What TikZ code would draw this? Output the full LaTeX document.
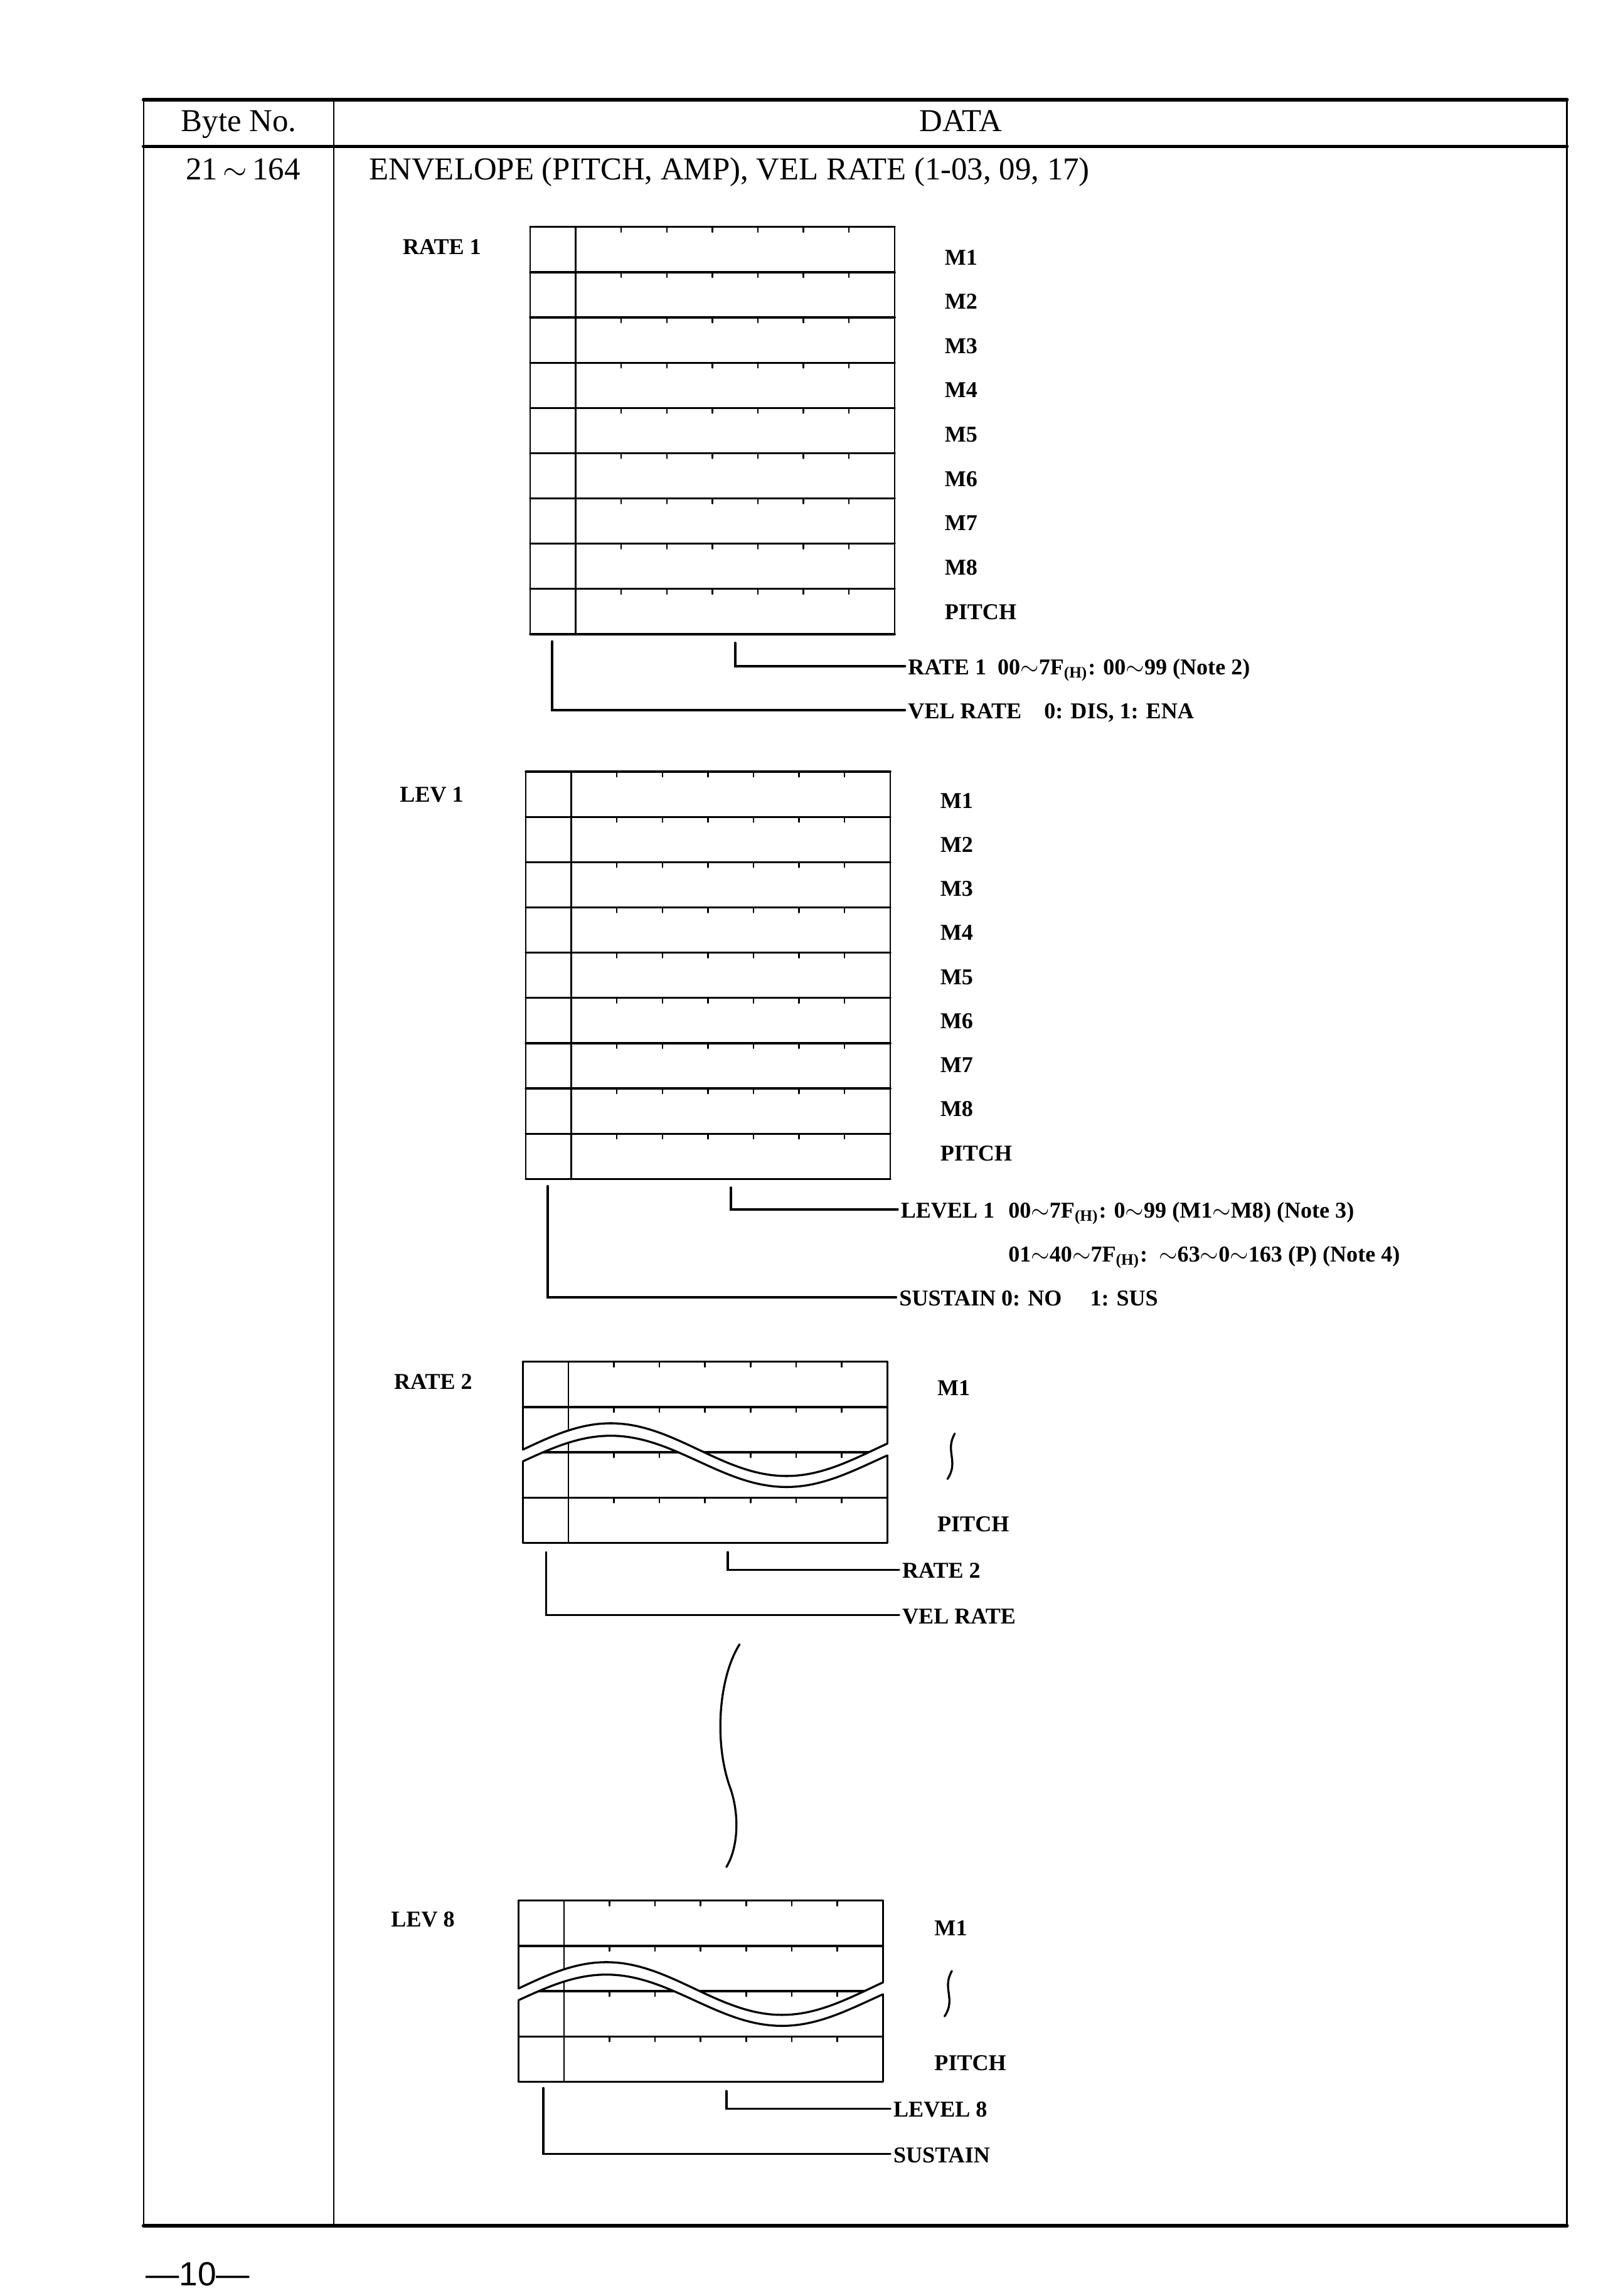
\documentclass[tikz,border=0pt]{standalone}
\usepackage{fontspec}
\setmainfont{Liberation Serif}
\setsansfont{Liberation Sans}
\usetikzlibrary{positioning}
\newcommand{\rng}{\ensuremath{\sim}}

\begin{document}
\begin{tikzpicture}[x=0.02cm, y=-0.02cm, line cap=round,
    hdr/.style={font=\fontsize{12.4}{14}\selectfont, inner sep=1pt, text height=1.45ex, text depth=0pt},
    lab/.style={font=\fontsize{8.8}{10}\selectfont\bfseries, inner sep=1pt, anchor=west, text height=1.45ex, text depth=0pt},
    grd/.style={line width=0.6pt},
    hln/.style={line width=0.8pt},
    lead/.style={line width=0.85pt},
    rule/.style={line width=1.4pt}]
  \useasboundingbox (0,0) rectangle (1098,1568);

  % table frame
  \draw[rule] (98,68) -- (1070,68);
  \draw[rule] (98,100) -- (1070,100);
  \draw[rule] (98,1520) -- (1070,1520);
  \draw[grd] (98,68) -- (98,1520) (228,68) -- (228,1520) (1070,68) -- (1070,1520);
  \node[hdr] (byte) at (163,84) {Byte No.};
  \node[hdr] (data) at (656,84) {DATA};
  \node[hdr] (bytes) at (166,117) {21\,\rng\,164};
  \node[hdr, anchor=west] (envl) at (250,117) {ENVELOPE (PITCH, AMP), VEL RATE (1-03, 09, 17)};

  % bit grids
  \foreach \gx/\gy/\n in {362/155/9, 359/527/9, 357/930/4, 354/1298/4} {
    \pgfmathtruncatemacro{\m}{\n-1}
    \draw[grd] (\gx,\gy) -- (\gx,{\gy+30.9*\n}) ({\gx+249},\gy) -- ({\gx+249},{\gy+30.9*\n});
    \draw[grd] ({\gx+31.1},\gy) -- ({\gx+31.1},{\gy+30.9*\n});
    \draw[hln] (\gx,{\gy+30.9*\n}) -- ({\gx+249},{\gy+30.9*\n});
    \foreach \r in {0,...,\m} {
      \draw[hln] (\gx,{\gy+30.9*\r}) -- ({\gx+249},{\gy+30.9*\r});
      \foreach \k in {2,...,7}
        \draw[grd] ({\gx+31.1*\k},{\gy+30.9*\r}) -- ++(0,3.5);
    }
  }

  % wavy breaks through the short grids
  \foreach \gx/\gy in {357/930, 354/1298} {
    \pgfmathsetmacro{\ga}{\gx-1.5}
    \pgfmathsetmacro{\gb}{\gx+250.5}
    \pgfmathsetmacro{\gc}{\gx+249}
    \fill[white] plot[domain=\ga:\gb, samples=80, smooth] (\x,{\gy+60-18*cos(1.5*(\x-\gx-60))})
      -- plot[domain=\gb:\ga, samples=80, smooth] (\x,{\gy+68-17.5*cos(1.5*(\x-\gx-60))}) -- cycle;
    \draw[hln] plot[domain=\gx:\gc, samples=80, smooth] (\x,{\gy+60-18*cos(1.5*(\x-\gx-60))});
    \draw[hln] plot[domain=\gx:\gc, samples=80, smooth] (\x,{\gy+68-17.5*cos(1.5*(\x-\gx-60))});
  }

  % RATE 1
  \node[lab] (ttla) at (273,168) {RATE 1};
  \foreach \t [count=\i] in {M1,M2,M3,M4,M5,M6,M7,M8,PITCH}
    \node[lab] (ra\i) at (643,{175+30.25*(\i-1)}) {\t};
  \node[lab] (rate1) at (618,455) {RATE 1\enspace 00\rng7F\textsubscript{(H)}: 00\rng99 (Note 2)};
  \node[lab] (vela) at (618,485) {VEL RATE\quad 0: DIS, 1: ENA};
  \coordinate (ra-r) at (502,439);
  \coordinate (ra-v) at (377,438);
  \draw[lead] (ra-r) |- (rate1.west);
  \draw[lead] (ra-v) |- (vela.west);

  % LEV 1
  \node[lab] (ttlb) at (271,542) {LEV 1};
  \foreach \t [count=\i] in {M1,M2,M3,M4,M5,M6,M7,M8,PITCH}
    \node[lab] (rb\i) at (640,{546+30.1*(\i-1)}) {\t};
  \node[lab] (lev1) at (613,826) {LEVEL 1};
  \node[lab, right=3pt of lev1] (lev1v) {00\rng7F\textsubscript{(H)}: 0\rng99 (M1\rng M8) (Note 3)};
  \coordinate (lv2) at (0,856);
  \node[lab] (lev1p) at (lev1v.west |- lv2) {01\rng40\rng7F\textsubscript{(H)}:\enspace\rng63\rng0\rng163 (P) (Note 4)};
  \node[lab] (sus) at (612,886) {SUSTAIN 0: NO\quad\ 1: SUS};
  \coordinate (rb-l) at (499,811);
  \coordinate (rb-s) at (374,810);
  \draw[lead] (rb-l) |- (lev1.west);
  \draw[lead] (rb-s) |- (sus.west);

  % RATE 2
  \node[lab] (ttlc) at (267,943) {RATE 2};
  \node[lab] (rc1) at (638,947) {M1};
  \node[lab] (rc9) at (638,1040) {PITCH};
  \draw[hln] (652,979) .. controls (645,991) and (655,998) .. (647,1010);
  \node[lab] (rate2) at (614,1072) {RATE 2};
  \node[lab] (velc) at (614,1103) {VEL RATE};
  \coordinate (rc-r) at (497,1060);
  \coordinate (rc-v) at (373,1060);
  \draw[lead] (rc-r) |- (rate2.west);
  \draw[lead] (rc-v) |- (velc.west);

  % gap
  \draw[hln] (505,1123) .. controls (491,1145) and (487,1190) .. (499,1222)
    .. controls (505,1240) and (504,1262) .. (496,1275);

  % LEV 8
  \node[lab] (ttld) at (265,1310) {LEV 8};
  \node[lab] (rd1) at (636,1316) {M1};
  \node[lab] (rd9) at (636,1408) {PITCH};
  \draw[hln] (650,1346) .. controls (643,1358) and (653,1365) .. (645,1377);
  \node[lab] (lev8) at (608,1440) {LEVEL 8};
  \node[lab] (susd) at (608,1471) {SUSTAIN};
  \coordinate (rd-l) at (496,1428);
  \coordinate (rd-s) at (371,1426);
  \draw[lead] (rd-l) |- (lev8.west);
  \draw[lead] (rd-s) |- (susd.west);

  \node[font=\sffamily\fontsize{13}{15}\selectfont] (pg) at (135,1553) {—10—};
\end{tikzpicture}
\end{document}
